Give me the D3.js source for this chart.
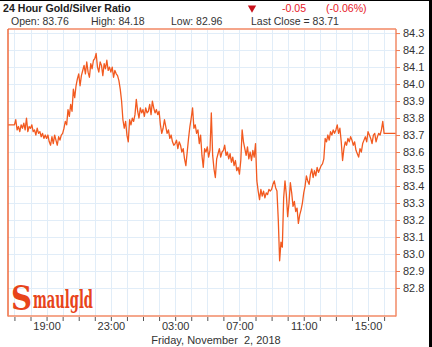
<!DOCTYPE html>
<html>
<head>
<meta charset="utf-8">
<script src="https://cdn.jsdelivr.net/npm/d3@7"></script>
<style>
  body { margin: 0; background: #fff; }
  svg { display: block; font-family: "Liberation Sans", Arial, sans-serif; }
</style>
</head>
<body>
<svg id="chart" width="432" height="347"></svg>
<script>
// ratio quotes, 5 minute steps starting at 17:00 (hours past midnight of Nov 1)
var startHour = 17;
var stepHours = 5 / 60;
var ratio = [
  83.76, 83.79, 83.73, 83.75, 83.72, 83.76, 83.74, 83.77, 83.73, 83.80, 83.72, 83.75,
  83.74, 83.76, 83.72, 83.73, 83.70, 83.74, 83.71, 83.72, 83.69, 83.71, 83.68, 83.70,
  83.68, 83.70, 83.66, 83.64, 83.69, 83.65, 83.70, 83.67, 83.64, 83.69, 83.67, 83.70,
  83.71, 83.74, 83.78, 83.76, 83.85, 83.81, 83.88, 83.84, 83.97, 83.92, 83.99, 84.03,
  84.06, 83.99, 84.05, 84.08, 84.11, 84.06, 84.13, 84.07, 84.04, 84.12, 84.09, 84.14,
  84.15, 84.18, 84.10, 84.07, 84.13, 84.11, 84.05, 84.12, 84.09, 84.14, 84.08, 84.10,
  84.07, 84.10, 84.04, 84.08, 84.06, 84.05, 84.02, 83.97, 83.90, 83.79, 83.74, 83.78,
  83.70, 83.66, 83.79, 83.76, 83.80, 83.78, 83.82, 83.91, 83.84, 83.80, 83.86, 83.83,
  83.85, 83.81, 83.86, 83.83, 83.84, 83.88, 83.82, 83.90, 83.86, 83.83, 83.85, 83.82,
  83.84, 83.76, 83.71, 83.74, 83.79, 83.75, 83.71, 83.73, 83.68, 83.70, 83.66, 83.64,
  83.65, 83.67, 83.62, 83.66, 83.64, 83.60, 83.62, 83.56, 83.52, 83.60, 83.68, 83.75,
  83.80, 83.86, 83.74, 83.76, 83.71, 83.73, 83.65, 83.70, 83.58, 83.51, 83.62, 83.60,
  83.63, 83.57, 83.61, 83.83, 83.58, 83.50, 83.45, 83.56, 83.59, 83.62, 83.57, 83.60,
  83.61, 83.64, 83.58, 83.60, 83.56, 83.59, 83.54, 83.57, 83.52, 83.55, 83.49, 83.51,
  83.47, 83.55, 83.73, 83.66, 83.62, 83.58, 83.63, 83.56, 83.60, 83.55, 83.61, 83.57,
  83.65, 83.43, 83.37, 83.32, 83.38, 83.34, 83.37, 83.33, 83.36, 83.35, 83.38, 83.37,
  83.38, 83.41, 83.43, 83.39, 83.37, 83.20, 82.96, 83.07, 83.04, 83.33, 83.43, 83.35,
  83.22, 83.30, 83.42, 83.36, 83.28, 83.31, 83.25, 83.27, 83.18, 83.23, 83.26, 83.30,
  83.36, 83.40, 83.46, 83.43, 83.41, 83.47, 83.50, 83.45, 83.49, 83.46, 83.51, 83.48,
  83.50, 83.52, 83.53, 83.56, 83.68, 83.66, 83.70, 83.67, 83.72, 83.70, 83.73, 83.71,
  83.73, 83.76, 83.71, 83.74, 83.66, 83.55, 83.62, 83.66, 83.64, 83.68, 83.66, 83.69,
  83.67, 83.64, 83.66, 83.61, 83.59, 83.57, 83.62, 83.60, 83.65, 83.67, 83.69, 83.66,
  83.72, 83.70, 83.68, 83.65, 83.70, 83.71, 83.66, 83.69, 83.71, 83.70, 83.73, 83.78,
  83.71, 83.71
];
var openValue = 83.76, lastClose = 83.71;
var windowStart = 16.6, windowEnd = 40.74;
var yTicks = [82.8, 82.9, 83.0, 83.1, 83.2, 83.3, 83.4, 83.5, 83.6, 83.7, 83.8, 83.9, 84.0, 84.1, 84.2, 84.3];
var hourTicks = d3.range(17, 41);
var labelHours = [19, 23, 27, 31, 35, 39];
var headerStats = [
  {text: "Open: 83.76", x: 11},
  {text: "High: 84.18", x: 91},
  {text: "Low: 82.96", x: 171},
  {text: "Last Close = 83.71", x: 251}
];
var changeText = ["-0.05", "(-0.06%)"];
var dateLabel = "Friday, November  2, 2018";

function drawChart() {
  var svg = d3.select("#chart");
  var m = {left: 8, right: 396, top: 29, bottom: 316};

  var x = d3.scaleLinear().domain([windowStart, windowEnd]).range([m.left, m.right]);
  var y = d3.scaleLinear().domain([82.635, 84.324]).range([m.bottom, m.top]);

  var data = [{h: windowStart, v: openValue}];
  ratio.forEach(function(v, i) { data.push({h: startHour + i * stepHours, v: v}); });
  data.push({h: windowEnd, v: lastClose});

  // grid
  svg.append("g").selectAll("line").data(hourTicks).enter().append("line")
      .attr("x1", function(d) { return Math.round(x(d)) + 0.5; })
      .attr("x2", function(d) { return Math.round(x(d)) + 0.5; })
      .attr("y1", m.top).attr("y2", m.bottom)
      .attr("stroke", "#e1edf8").attr("stroke-width", 1);
  svg.append("g").selectAll("line").data(yTicks).enter().append("line")
      .attr("y1", function(d) { return Math.round(y(d)) + 0.5; })
      .attr("y2", function(d) { return Math.round(y(d)) + 0.5; })
      .attr("x1", m.left).attr("x2", m.right)
      .attr("stroke", "#e1edf8").attr("stroke-width", 1);

  // logo
  var logo = svg.append("g").attr("fill", "#e8441a");
  logo.append("text").attr("x", 11).attr("y", 310)
      .attr("font-family", "DejaVu Serif").attr("font-weight", "bold")
      .attr("font-size", "34px").attr("textLength", 21).attr("lengthAdjust", "spacingAndGlyphs")
      .text("S");
  logo.append("text").attr("x", 33).attr("y", 308)
      .attr("font-family", "DejaVu Serif").attr("font-weight", "bold")
      .attr("font-size", "24px").attr("textLength", 60).attr("lengthAdjust", "spacingAndGlyphs")
      .text("maulgld");

  // line
  var line = d3.line()
      .x(function(d) { return x(d.h); })
      .y(function(d) { return y(d.v); });
  svg.append("path").datum(data)
      .attr("d", line)
      .attr("fill", "none")
      .attr("stroke", "#f25a20")
      .attr("stroke-width", 1.3)
      .attr("stroke-linejoin", "round");

  // frame
  svg.append("line").attr("x1", m.left).attr("x2", m.right).attr("y1", m.top).attr("y2", m.top)
      .attr("stroke", "#f5a58a").attr("stroke-width", 2);
  svg.append("line").attr("x1", m.left).attr("x2", m.left).attr("y1", m.top).attr("y2", m.bottom + 0.5)
      .attr("stroke", "#ee6a3e").attr("stroke-width", 1.5);
  svg.append("line").attr("x1", m.right).attr("x2", m.right).attr("y1", m.top).attr("y2", m.bottom + 0.5)
      .attr("stroke", "#f28a66").attr("stroke-width", 1.5);
  svg.append("line").attr("x1", m.left).attr("x2", m.right).attr("y1", m.bottom).attr("y2", m.bottom)
      .attr("stroke", "#f28a66").attr("stroke-width", 1.5);

  // y axis on the right
  var yAxis = svg.append("g")
      .attr("transform", "translate(" + m.right + ",0)")
      .call(d3.axisRight(y).tickValues(yTicks).tickSize(4).tickPadding(3)
        .tickFormat(d3.format(".1f")));
  yAxis.select(".domain").remove();
  yAxis.selectAll(".tick line").attr("stroke", "#f07a50");
  yAxis.selectAll(".tick text").attr("fill", "#333").style("font-size", "11px")
      .style("font-family", "Liberation Sans, Arial, sans-serif");

  // x axis
  var xAxis = svg.append("g")
      .attr("transform", "translate(0," + (m.bottom + 1) + ")")
      .call(d3.axisBottom(x).tickValues(hourTicks).tickSize(4).tickPadding(1)
        .tickFormat(function(d) {
          return labelHours.indexOf(d) >= 0 ? d3.format("02")(d % 24) + ":00" : "";
        }));
  xAxis.select(".domain").remove();
  xAxis.selectAll(".tick line").attr("stroke", "#555");
  xAxis.selectAll(".tick text").attr("fill", "#333").style("font-size", "11px")
      .style("font-family", "Liberation Sans, Arial, sans-serif");

  svg.append("text").attr("x", 216).attr("y", 344).attr("text-anchor", "middle")
      .attr("fill", "#333").style("font-size", "11px").style("white-space", "pre")
      .text(dateLabel);

  // header
  svg.append("text").attr("x", 3).attr("y", 12)
      .attr("font-weight", "bold").attr("fill", "#222").style("font-size", "10.6px")
      .text("24 Hour Gold/Silver Ratio");
  svg.append("path")
      .attr("d", d3.symbol().type(d3.symbolTriangle).size(30)())
      .attr("transform", "translate(252,8) rotate(180)")
      .attr("fill", "#c8101a");
  svg.selectAll("text.chg").data(changeText).enter().append("text")
      .attr("class", "chg")
      .attr("x", function(d, i) { return i === 0 ? 282 : 326; })
      .attr("y", 12).attr("fill", "#e8202a").style("font-size", "10.6px")
      .text(function(d) { return d; });
  svg.selectAll("text.stat").data(headerStats).enter().append("text")
      .attr("class", "stat")
      .attr("x", function(d) { return d.x; }).attr("y", 25)
      .attr("fill", "#333").style("font-size", "10.5px")
      .text(function(d) { return d.text; });

  // window edges
  svg.append("rect").attr("x", 0).attr("y", 0).attr("width", 432).attr("height", 1).attr("fill", "#000");
  svg.append("rect").attr("x", 429).attr("y", 0).attr("width", 3).attr("height", 347).attr("fill", "#000");
}

drawChart();
</script>
</body>
</html>
